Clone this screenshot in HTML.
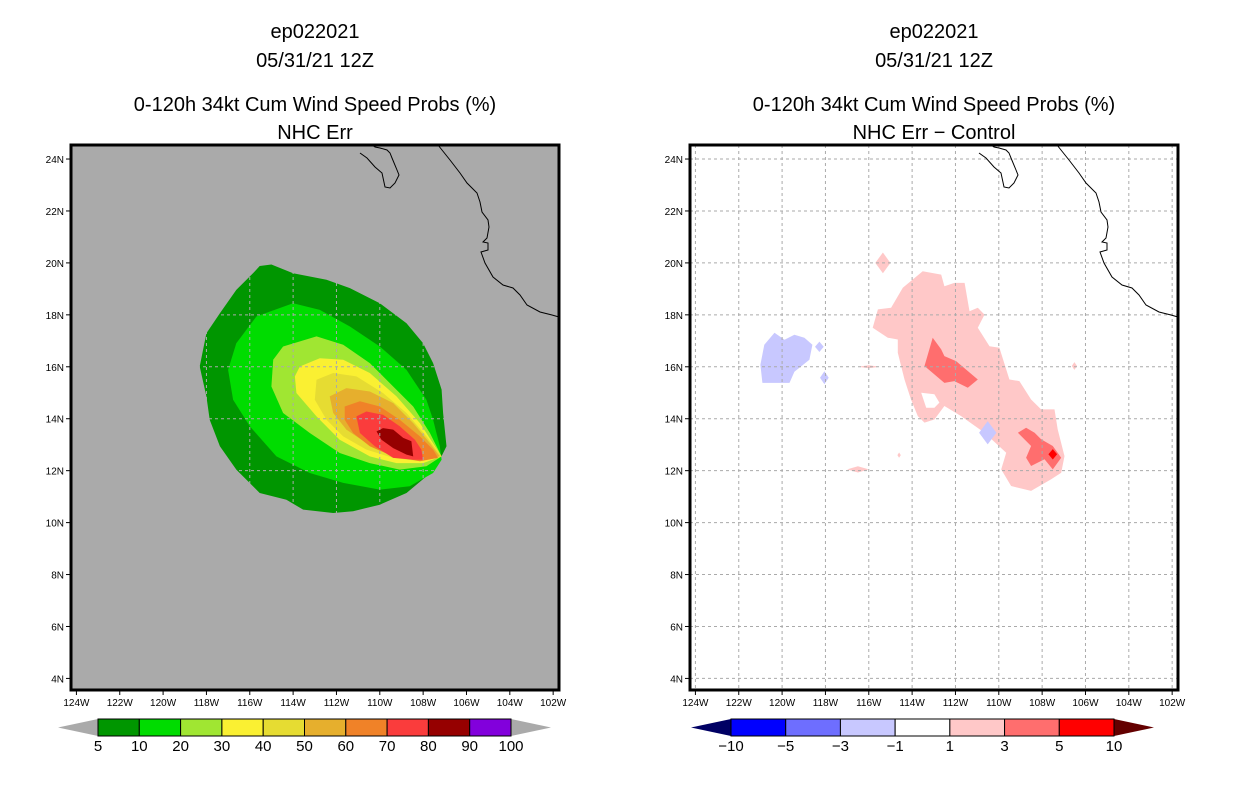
<!DOCTYPE html>
<html><head><meta charset="utf-8"><style>
body{margin:0;background:#fff;width:1236px;height:800px;overflow:hidden;font-family:"Liberation Sans",sans-serif}
svg{display:block}
</style></head><body>
<svg id="c" width="1236" height="800" xmlns="http://www.w3.org/2000/svg"></svg>
<script>
// ---- data ----
const lonTicks=[-124,-122,-120,-118,-116,-114,-112,-110,-108,-106,-104,-102];
const latTicks=[4,6,8,10,12,14,16,18,20,22,24];
const leftLevels=["5","10","20","30","40","50","60","70","80","90","100"];
const leftColors=["#009600","#00dc00","#a0e632","#faf032","#e6dc32","#e6af2d","#f08228","#fa3c3c","#960000","#8200dc"];
const rightLevels=["-10","-5","-3","-1","1","3","5","10"];
const rightColors=["#0000ff","#6e6eff","#c8c8ff","#ffffff","#ffc8c8","#ff6e6e","#ff0000"];
const p5=[[-115.54,19.88],[-115.0,19.94],[-114.0,19.6],[-112.46,19.35],[-111.38,19.03],[-110.0,18.45],[-108.77,17.68],[-108.0,16.91],[-107.54,16.14],[-107.15,15.12],[-107.08,14.22],[-106.92,12.94],[-107.23,12.42],[-107.85,11.78],[-108.77,11.14],[-110.0,10.69],[-111.23,10.44],[-112.15,10.37],[-113.54,10.5],[-114.31,10.88],[-115.54,11.14],[-116.62,12.04],[-117.38,12.94],[-117.85,13.96],[-118.0,14.86],[-118.31,16.01],[-118.0,17.29],[-117.38,18.06],[-116.62,18.96],[-115.85,19.6]];
const p10=[[-115.69,17.94],[-114.0,18.45],[-112.77,18.19],[-111.38,17.55],[-110.0,16.78],[-108.77,15.88],[-107.85,14.73],[-107.54,13.96],[-107.23,12.94],[-107.15,12.42],[-107.54,11.91],[-108.62,11.4],[-110.0,11.27],[-111.69,11.53],[-113.23,11.91],[-114.77,12.55],[-116.0,13.71],[-116.77,14.73],[-117.0,15.88],[-116.62,16.91]];
const p20=[[-114.46,16.78],[-112.92,17.17],[-111.69,16.85],[-110.46,16.14],[-109.38,15.24],[-108.46,14.47],[-107.69,13.45],[-107.15,12.55],[-107.85,12.17],[-109.08,12.04],[-110.46,12.29],[-111.85,12.68],[-113.23,13.45],[-114.46,14.22],[-115.0,15.24],[-114.92,16.27]];
const p30=[[-113.69,16.01],[-112.77,16.33],[-111.69,16.27],[-110.46,15.76],[-109.23,14.86],[-108.15,13.83],[-107.15,12.55],[-108.0,12.29],[-109.23,12.29],[-110.46,12.55],[-111.85,13.19],[-112.92,14.09],[-113.85,14.99],[-113.92,15.63]];
const p40=[[-112.92,15.5],[-112.15,15.76],[-111.08,15.63],[-109.85,14.99],[-108.77,14.22],[-107.85,13.32],[-107.15,12.55],[-108.15,12.36],[-109.38,12.49],[-110.62,12.81],[-111.69,13.32],[-112.46,13.96],[-113.0,14.73]];
const p50=[[-112.31,14.86],[-111.54,15.18],[-110.46,15.05],[-109.38,14.6],[-108.46,13.83],[-107.69,13.06],[-107.23,12.55],[-108.15,12.42],[-109.38,12.62],[-110.62,13.06],[-111.54,13.58],[-112.15,14.22]];
const p60=[[-111.62,14.47],[-110.92,14.67],[-110.0,14.47],[-109.08,13.96],[-108.15,13.32],[-107.54,12.81],[-107.31,12.49],[-108.15,12.36],[-109.38,12.55],[-110.46,12.94],[-111.23,13.45],[-111.62,13.96]];
const p70=[[-111.08,14.09],[-110.62,14.28],[-109.85,14.15],[-109.08,13.71],[-108.38,13.19],[-108.08,12.81],[-108.0,12.42],[-108.46,12.42],[-109.38,12.49],[-110.23,12.94],[-110.92,13.45]];
const p80=[[-110.15,13.51],[-109.85,13.64],[-109.38,13.58],[-108.92,13.26],[-108.54,13.13],[-108.46,12.55],[-108.77,12.62],[-109.38,12.87],[-109.92,13.19]];
const dPink=[[-115.82,17.5],[-115.58,18.21],[-114.97,18.27],[-114.43,19.04],[-113.51,19.68],[-112.66,19.55],[-112.51,19.1],[-112.05,19.23],[-111.58,19.23],[-111.35,18.14],[-110.97,18.27],[-110.66,18.01],[-110.97,17.5],[-110.43,16.79],[-109.97,16.73],[-109.51,15.51],[-109.05,15.45],[-108.51,14.74],[-108.05,14.36],[-107.43,14.36],[-107.28,13.59],[-106.97,12.56],[-107.12,11.92],[-107.58,11.67],[-108.51,11.22],[-109.43,11.41],[-109.89,12.05],[-109.66,12.69],[-110.66,13.46],[-111.74,14.1],[-112.51,14.49],[-112.97,13.97],[-113.43,13.85],[-113.74,14.1],[-114.05,14.74],[-114.35,15.51],[-114.66,16.54],[-114.66,17.05],[-115.12,17.12]];
const dHole=[[-113.58,15.0],[-112.97,14.94],[-112.74,14.62],[-112.97,14.42],[-113.35,14.42]];
const dRed1=[[-113.05,17.12],[-112.66,16.67],[-112.51,16.41],[-111.97,16.22],[-110.97,15.51],[-111.43,15.19],[-112.05,15.45],[-112.51,15.38],[-113.43,16.03]];
const dRed2=[[-109.12,13.46],[-108.74,13.65],[-108.35,13.46],[-108.05,13.21],[-107.51,12.95],[-107.12,12.5],[-107.51,12.05],[-107.89,12.44],[-108.51,12.18],[-108.74,12.5],[-108.51,12.95]];
const dBlue=[[-120.82,16.85],[-120.35,17.31],[-119.89,17.04],[-119.43,17.23],[-118.97,17.12],[-118.6,16.85],[-118.74,16.27],[-119.43,15.81],[-119.66,15.38],[-120.91,15.38],[-121.0,16.08]];
const dSmall=[[-118.28,16.77,0.2,0.2,2],[-118.05,15.58,0.2,0.25,2],[-110.51,13.46,0.4,0.45,2],[-115.35,20.0,0.35,0.4,4],[-106.51,16.03,0.12,0.15,4],[-116.0,16.0,0.5,0.06,4],[-116.5,12.05,0.5,0.12,4],[-114.6,12.6,0.08,0.1,4],[-107.51,12.63,0.2,0.2,6]];
const coastBaja=[[289,153],[296,158],[304,167],[311,173],[314,187],[319,188],[324,183],[328,175],[326,170],[321,158],[319,153],[316,150],[309,148],[304,147],[301,145]];
const coastMain=[[367,145],[379,160],[389,173],[396,183],[406,193],[409,202],[411,212],[417,220],[418,227],[416,238],[412,242],[417,243],[417,250],[410,252],[414,263],[422,277],[432,285],[442,288],[449,295],[456,305],[469,312],[481,315],[488,317]];

// ---- axes ----
const NS="http://www.w3.org/2000/svg";
const svg=document.getElementById('c');
const W0=-124.25, PXLON=21.67, N0=24.54, PXLAT=25.97, PW=488, PH=545, TOP=145;
function xs(lon,ox){return ox+(lon-W0)*PXLON;}
function ys(lat){return TOP+(N0-lat)*PXLAT;}
function mk(tag,attrs,parent){const e=document.createElementNS(NS,tag);for(const k in attrs)e.setAttribute(k,attrs[k]);(parent||svg).appendChild(e);return e;}
function poly(pts,ox,fill,name){
  const e=mk('polygon',{points:pts.map(p=>xs(p[0],ox).toFixed(1)+','+ys(p[1]).toFixed(1)).join(' '),fill:fill});
  
  
  return e;
}
function txt(x,y,s,size,anchor,name){
  const t=mk('text',{x:x,y:y,'font-size':size,'text-anchor':anchor||'middle',fill:'#000','font-family':'Liberation Sans, sans-serif'});
  t.textContent=s;
  
  
  return t;
}
function panel(ox,bg,titleLine){
  const cx=ox+PW/2;
  const r=mk('rect',{x:ox,y:TOP,width:PW,height:PH,fill:bg});
  
  
  txt(cx,38,'ep022021',20,'middle','storm-id-title');
  txt(cx,67,'05/31/21 12Z',20,'middle','date-title');
  txt(cx,111,'0-120h 34kt Cum Wind Speed Probs (%)',20,'middle','product-title');
  txt(cx,139,titleLine,20,'middle','subtitle');
  return cx;
}
function gridAndFrame(ox,gridColor){
  for(const lon of lonTicks){
    const x=xs(lon,ox);
    if(x>ox+1&&x<ox+PW-1){const l=mk('line',{x1:x,y1:TOP,x2:x,y2:TOP+PH,stroke:gridColor,'stroke-width':1,'stroke-dasharray':'3,3'});
    }
    const t=mk('line',{x1:x,y1:TOP+PH,x2:x,y2:TOP+PH+5,stroke:'#000'});
    
    txt(x,TOP+PH+16,Math.abs(lon)+'W',10,'middle','x-tick-label');
  }
  for(const lat of latTicks){
    const y=ys(lat);
    const l=mk('line',{x1:ox,y1:y,x2:ox+PW,y2:y,stroke:gridColor,'stroke-width':1,'stroke-dasharray':'3,3'});
    
    const t=mk('line',{x1:ox-5,y1:y,x2:ox,y2:y,stroke:'#000'});
    
    txt(ox-7,y+4,lat+'N',10,'end','y-tick-label');
  }
  for(const c of [coastBaja,coastMain]){
    const p=mk('polyline',{points:c.map(q=>(q[0]+ox)+','+q[1]).join(' '),fill:'none',stroke:'#000','stroke-width':1});
    
  }
  const f=mk('rect',{x:ox,y:TOP,width:PW,height:PH,fill:'none',stroke:'#000','stroke-width':3});
  
}
function colorbar(x0,x1,y,levels,colors,leftTri,rightTri,name){
  const n=colors.length, w=(x1-x0)/n, h=17;
  const g=mk('g',{});
  
  
  const lt=mk('polygon',{points:`${x0},${y} ${x0},${y+h} ${x0-40},${y+h/2}`,fill:leftTri},g);
  
  const rt=mk('polygon',{points:`${x1},${y} ${x1},${y+h} ${x1+40},${y+h/2}`,fill:rightTri},g);
  
  colors.forEach((c,i)=>{
    const r=mk('rect',{x:x0+i*w,y:y,width:w,height:h,fill:c,stroke:'#000','stroke-width':1},g);
    
  });
  levels.forEach((s,i)=>{txt(x0+i*w,y+32,s.replace('-','\u2212'),15,'middle','colorbar-label');});
}

const L=71, R=690;
panel(L,'#aaaaaa','NHC Err');
[p5,p10,p20,p30,p40,p50,p60,p70,p80].forEach((p,i)=>poly(p,L,leftColors[i],'prob-contour-'+leftLevels[i]));
gridAndFrame(L,'#aaaaaa');
colorbar(98,511,719,leftLevels,leftColors,'#aaaaaa','#aaaaaa','left-colorbar');

panel(R,'#ffffff','NHC Err \u2212 Control');
poly(dPink,R,rightColors[4],'diff-region-1-3');
poly(dHole,R,'#ffffff','diff-hole');
poly(dRed1,R,rightColors[5],'diff-region-3-5-north');
poly(dRed2,R,rightColors[5],'diff-region-3-5-south');
poly(dBlue,R,rightColors[2],'diff-region-neg1-neg3');
dSmall.forEach(d=>{
  const pts=[[d[0]-d[2],d[1]],[d[0],d[1]+d[3]],[d[0]+d[2],d[1]],[d[0],d[1]-d[3]]];
  poly(pts,R,rightColors[d[4]],'diff-blob');
});
gridAndFrame(R,'#aaaaaa');
colorbar(731,1114,719,rightLevels,rightColors,'#000064','#640000','right-colorbar');
</script>
</body></html>
